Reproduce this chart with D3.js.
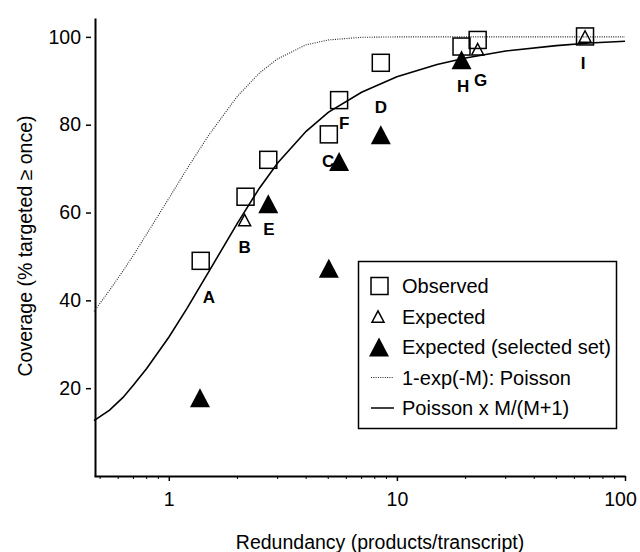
<!DOCTYPE html>
<html>
<head>
<meta charset="utf-8">
<script src="https://cdn.jsdelivr.net/npm/d3@7"></script>
<style>
  body { margin: 0; background: #fff; }
  svg { font-family: "Liberation Sans", Arial, sans-serif; }
</style>
</head>
<body>
<div id="chart"></div>
<script>
// observed coverage (open squares)
const obsM   = [1.38, 2.17, 2.73, 5.03, 5.58, 8.5, 19.2, 22.6, 66.8];
const obsCov = [49.0, 63.6, 72.0, 77.8, 85.6, 94.1, 97.8, 99.3, 100.1];

// expected (open triangles)
const expM   = [2.15, 22.6, 66.8];
const expCov = [58.3, 97.2, 100.1];

// expected, selected set (filled triangles)
const selM   = [1.37, 2.73, 5.03, 5.58, 8.5, 19.2];
const selCov = [17.8, 62.0, 47.3, 71.6, 77.7, 94.8];

// letter labels
const labelText = ["A", "B", "C", "D", "E", "F", "G", "H", "I"];
const labelM    = [1.50, 2.15, 4.99, 8.5, 2.75, 5.87, 23.3, 19.5, 65.6];
const labelCov  = [40.8, 52.2, 71.8, 84.1, 56.2, 80.3, 90.2, 88.7, 94.1];

// curves
const curveM      = [0.47, 0.55, 0.63, 0.7, 0.8, 1, 1.2, 1.5, 2, 2.5, 3, 4, 5, 7, 10, 15, 20, 30, 50, 70, 100];
const poissonCov  = [37.5, 42.3, 46.7, 50.3, 55.1, 63.2, 69.9, 77.7, 86.5, 91.8, 95.0, 98.2, 99.3, 99.9, 100, 100, 100, 100, 100, 100, 100];
const adjustedCov = [12.6, 15.0, 17.9, 20.7, 24.5, 31.6, 38.1, 46.6, 57.6, 65.6, 71.3, 78.5, 82.8, 87.4, 90.9, 93.7, 95.2, 96.8, 98.0, 98.6, 99.0];

const yTicks = [20, 40, 60, 80, 100];
const xMajor = [1, 10, 100];
const xMinor = [0.5, 0.6, 0.7, 0.8, 0.9, 2, 3, 4, 5, 6, 7, 8, 9, 20, 30, 40, 50, 60, 70, 80, 90];

const legendItems = ["Observed", "Expected", "Expected (selected set)", "1-exp(-M): Poisson", "Poisson x M/(M+1)"];

const width = 640, height = 552;

const svg = d3.select("#chart").append("svg")
  .attr("width", width)
  .attr("height", height);

const x = d3.scaleLog().domain([0.47, 100]).range([94, 625]);
const y = d3.scaleLinear().domain([0, 104.3]).range([476, 18]);

// triangle centred on its bounding box
function tri(s) {
  const h = s * 0.95;
  return "M0," + (-h / 2) + "L" + (s / 2) + "," + (h / 2) + "L" + (-s / 2) + "," + (h / 2) + "Z";
}

// y axis
const yAxis = svg.append("g")
  .attr("transform", "translate(95,0)")
  .call(d3.axisLeft(y).tickValues(yTicks).tickSize(0).tickPadding(14));
yAxis.select(".domain").attr("stroke-width", 2);
yAxis.selectAll(".tick line").attr("x1", -9).attr("x2", -4).attr("stroke-width", 1.5);
yAxis.selectAll("text").style("font-size", "19.5px").attr("fill", "#000");

// x axis
const xAxis = svg.append("g")
  .attr("transform", "translate(0,476)")
  .call(d3.axisBottom(x).tickValues(xMajor).tickFormat(d3.format("d")).tickSizeInner(5).tickSizeOuter(0).tickPadding(11));
xAxis.select(".domain").attr("stroke-width", 2);
xAxis.selectAll(".tick line").attr("stroke-width", 1.5);
xAxis.selectAll("text").style("font-size", "19.5px").attr("fill", "#000");
xAxis.selectAll("text").filter(d => d === 100).attr("dx", -5);

svg.append("g").selectAll("line")
  .data(xMinor)
  .join("line")
  .attr("x1", d => x(d)).attr("x2", d => x(d))
  .attr("y1", 476).attr("y2", 479)
  .attr("stroke", "#000");

// axis titles
svg.append("text")
  .attr("x", 380).attr("y", 549)
  .attr("text-anchor", "middle")
  .style("font-size", "19.5px")
  .text("Redundancy (products/transcript)");

svg.append("text")
  .attr("transform", "translate(32,246) rotate(-90)")
  .attr("text-anchor", "middle")
  .style("font-size", "19.5px")
  .text("Coverage (% targeted \u2265 once)");

// curves
const line = d3.line()
  .x(d => x(d[0]))
  .y(d => y(d[1]));

svg.append("path")
  .datum(curveM.map((m, i) => [m, poissonCov[i]]))
  .attr("fill", "none")
  .attr("stroke", "#222")
  .attr("stroke-width", 1.1)
  .attr("stroke-dasharray", "1,1.3")
  .attr("d", line);

svg.append("path")
  .datum(curveM.map((m, i) => [m, adjustedCov[i]]))
  .attr("fill", "none")
  .attr("stroke", "#000")
  .attr("stroke-width", 1.6)
  .attr("d", line);

// observed squares
svg.append("g").selectAll("rect")
  .data(obsM.map((m, i) => [m, obsCov[i]]))
  .join("rect")
  .attr("x", d => x(d[0]) - 8.5)
  .attr("y", d => y(d[1]) - 8.5)
  .attr("width", 17).attr("height", 17)
  .attr("fill", "none")
  .attr("stroke", "#000")
  .attr("stroke-width", 1.5);

// expected open triangles
svg.append("g").selectAll("path")
  .data(expM.map((m, i) => [m, expCov[i]]))
  .join("path")
  .attr("transform", d => "translate(" + x(d[0]) + "," + y(d[1]) + ")")
  .attr("d", tri(12))
  .attr("fill", "none")
  .attr("stroke", "#000")
  .attr("stroke-width", 1.5);

// selected set filled triangles
svg.append("g").selectAll("path")
  .data(selM.map((m, i) => [m, selCov[i]]))
  .join("path")
  .attr("transform", d => "translate(" + x(d[0]) + "," + y(d[1]) + ")")
  .attr("d", tri(20))
  .attr("fill", "#000");

// letter labels
svg.append("g").selectAll("text")
  .data(labelText.map((t, i) => [t, labelM[i], labelCov[i]]))
  .join("text")
  .attr("x", d => x(d[1]))
  .attr("y", d => y(d[2]))
  .attr("dy", "0.35em")
  .attr("text-anchor", "middle")
  .style("font-size", "17px")
  .style("font-weight", "bold")
  .text(d => d[0]);

// legend
const legend = svg.append("g");
legend.append("rect")
  .attr("x", 358.5).attr("y", 261.5)
  .attr("width", 258).attr("height", 167)
  .attr("fill", "#fff")
  .attr("stroke", "#000")
  .attr("stroke-width", 1.5);

const rowY = i => 286 + i * 30.5;

legendItems.forEach((label, i) => {
  const ry = rowY(i);
  if (i === 0) {
    legend.append("rect")
      .attr("x", 371).attr("y", ry - 8.5)
      .attr("width", 17).attr("height", 17)
      .attr("fill", "none").attr("stroke", "#000").attr("stroke-width", 1.5);
  } else if (i === 1) {
    legend.append("path")
      .attr("transform", "translate(378," + ry + ")")
      .attr("d", tri(12))
      .attr("fill", "none").attr("stroke", "#000").attr("stroke-width", 1.5);
  } else if (i === 2) {
    legend.append("path")
      .attr("transform", "translate(379," + ry + ")")
      .attr("d", tri(20))
      .attr("fill", "#000");
  } else {
    legend.append("line")
      .attr("x1", 371).attr("x2", 394)
      .attr("y1", ry).attr("y2", ry)
      .attr("stroke", i === 3 ? "#222" : "#000")
      .attr("stroke-width", i === 3 ? 1.1 : 1.5)
      .attr("stroke-dasharray", i === 3 ? "1,1.3" : null);
  }
  legend.append("text")
    .attr("x", 402).attr("y", ry)
    .attr("dy", "0.35em")
    .style("font-size", "20px")
    .text(label);
});
</script>
</body>
</html>
